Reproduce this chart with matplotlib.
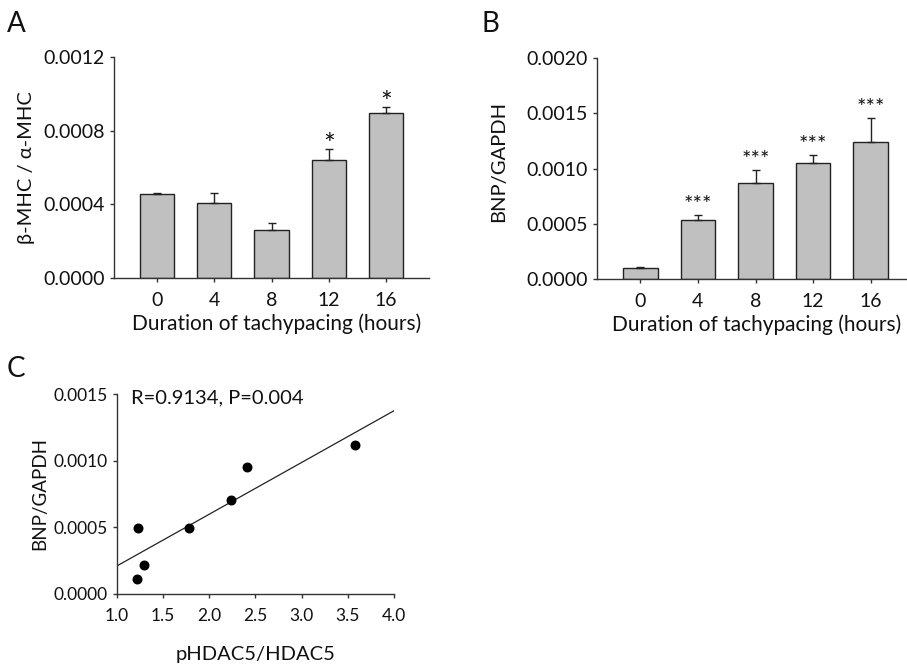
import numpy as np
import matplotlib
matplotlib.use("Agg")
import matplotlib.pyplot as plt

plt.rcParams['font.family'] = ['Lato', 'DejaVu Sans']

# Panel A: beta-MHC / alpha-MHC
hours = ['0', '4', '8', '12', '16']
mhc_mean = [0.000456, 0.000407, 0.000259, 0.000639, 0.000894]
mhc_err = [0.000006, 0.000053, 0.000040, 0.000060, 0.000035]
mhc_sig = ['', '', '', '*', '*']

# Panel B: BNP/GAPDH
bnp_mean = [0.000097, 0.000538, 0.000869, 0.001047, 0.001236]
bnp_err = [0.000008, 0.000042, 0.000121, 0.000075, 0.000223]
bnp_sig = ['', '***', '***', '***', '***']

# Panel C: correlation
phdac = [1.227, 1.296, 1.220, 1.779, 2.240, 2.403, 3.582]
bnp_pts = [0.000495, 0.000215, 0.000115, 0.000495, 0.000708, 0.000950, 0.001115]

W, H = 907, 665
fig = plt.figure(figsize=(W / 100, H / 100), dpi=100)

axis_col = '#333333'
txt_col = '#111111'
bar_col = '#c0c0c0'


def style(ax, tick_size):
    for s in ['top', 'right']:
        ax.spines[s].set_visible(False)
    for s in ['left', 'bottom']:
        ax.spines[s].set_color(axis_col)
        ax.spines[s].set_linewidth(1.0)
    ax.tick_params(direction='out', length=3, width=1, colors=axis_col,
                   labelcolor=txt_col, labelsize=tick_size)


def bar_panel(rect, means, errs, sig, ymax, yticks, ylabel, star_size, star_gap):
    ax = fig.add_axes(rect)
    x = np.arange(len(hours))
    ax.bar(x, means, width=0.6, color=bar_col, edgecolor='#222222', linewidth=1.0, zorder=2)
    ax.errorbar(x, means, yerr=[np.zeros(len(errs)), errs], fmt='none',
                ecolor='#222222', elinewidth=1.0, capsize=3, capthick=1.0, zorder=3)
    for xi, m, e, s in zip(x, means, errs, sig):
        if s:
            ax.text(xi, m + e + ymax * star_gap, s, ha='center', va='bottom',
                    fontsize=star_size, color=txt_col)
    ax.set_xlim(-0.75, 4.75)
    ax.set_ylim(0, ymax)
    ax.set_yticks(yticks)
    ax.set_yticklabels(['%.4f' % v for v in yticks])
    ax.set_xticks(x)
    ax.set_xticklabels(hours)
    style(ax, 14)
    ax.tick_params(axis='x', pad=7)
    ax.set_xlabel('Duration of tachypacing (hours)', fontsize=15, color=txt_col, labelpad=3)
    ax.set_ylabel(ylabel, fontsize=14.5, color=txt_col)
    return ax


axA = bar_panel([114 / W, 1 - 278 / H, 315 / W, 221 / H], mhc_mean, mhc_err, mhc_sig,
                0.0012, [0, 0.0004, 0.0008, 0.0012], 'β-MHC / α-MHC', 20, -0.045)
axA.yaxis.set_label_coords(-0.25, 0.5)
axA.xaxis.label.set_x(0.516)

axB = bar_panel([597 / W, 1 - 279 / H, 317 / W, 221 / H], bnp_mean, bnp_err, bnp_sig,
                0.0020, [0, 0.0005, 0.0010, 0.0015, 0.0020], 'BNP/GAPDH', 16, 0.0)
axB.yaxis.set_label_coords(-0.285, 0.53)
axB.xaxis.label.set_x(0.505)

# Panel C
axC = fig.add_axes([117 / W, 1 - 594 / H, 277 / W, 200 / H])
axC.scatter(phdac, bnp_pts, s=38, color='black', zorder=3)
k, b = np.polyfit(phdac, bnp_pts, 1)
xl = np.array([1.0, 4.0])
axC.plot(xl, k * xl + b, color='#222222', linewidth=0.9)
axC.set_xlim(1.0, 4.0)
axC.set_ylim(0, 0.0015)
axC.set_xticks([1.0, 1.5, 2.0, 2.5, 3.0, 3.5, 4.0])
axC.set_xticklabels(['%.1f' % v for v in [1.0, 1.5, 2.0, 2.5, 3.0, 3.5, 4.0]])
axC.set_yticks([0, 0.0005, 0.0010, 0.0015])
axC.set_yticklabels(['%.4f' % v for v in [0, 0.0005, 0.0010, 0.0015]])
style(axC, 12.5)
axC.tick_params(axis='x', pad=7)
axC.set_xlabel('pHDAC5/HDAC5', fontsize=14.5, color=txt_col, labelpad=16)
axC.set_ylabel('BNP/GAPDH', fontsize=13.5, color=txt_col)
axC.yaxis.set_label_coords(-0.25, 0.5)
axC.text(0.05, 0.98, 'R=0.9134, P=0.004', transform=axC.transAxes,
         ha='left', va='center', fontsize=14.5, color=txt_col)

# panel letters
fig.text(7 / W, 1 - 24 / H, 'A', fontsize=20, va='center', ha='left', color=txt_col)
fig.text(481 / W, 1 - 24 / H, 'B', fontsize=20, va='center', ha='left', color=txt_col)
fig.text(7 / W, 1 - 369 / H, 'C', fontsize=20, va='center', ha='left', color=txt_col)

fig.savefig('out.png', dpi=100)
